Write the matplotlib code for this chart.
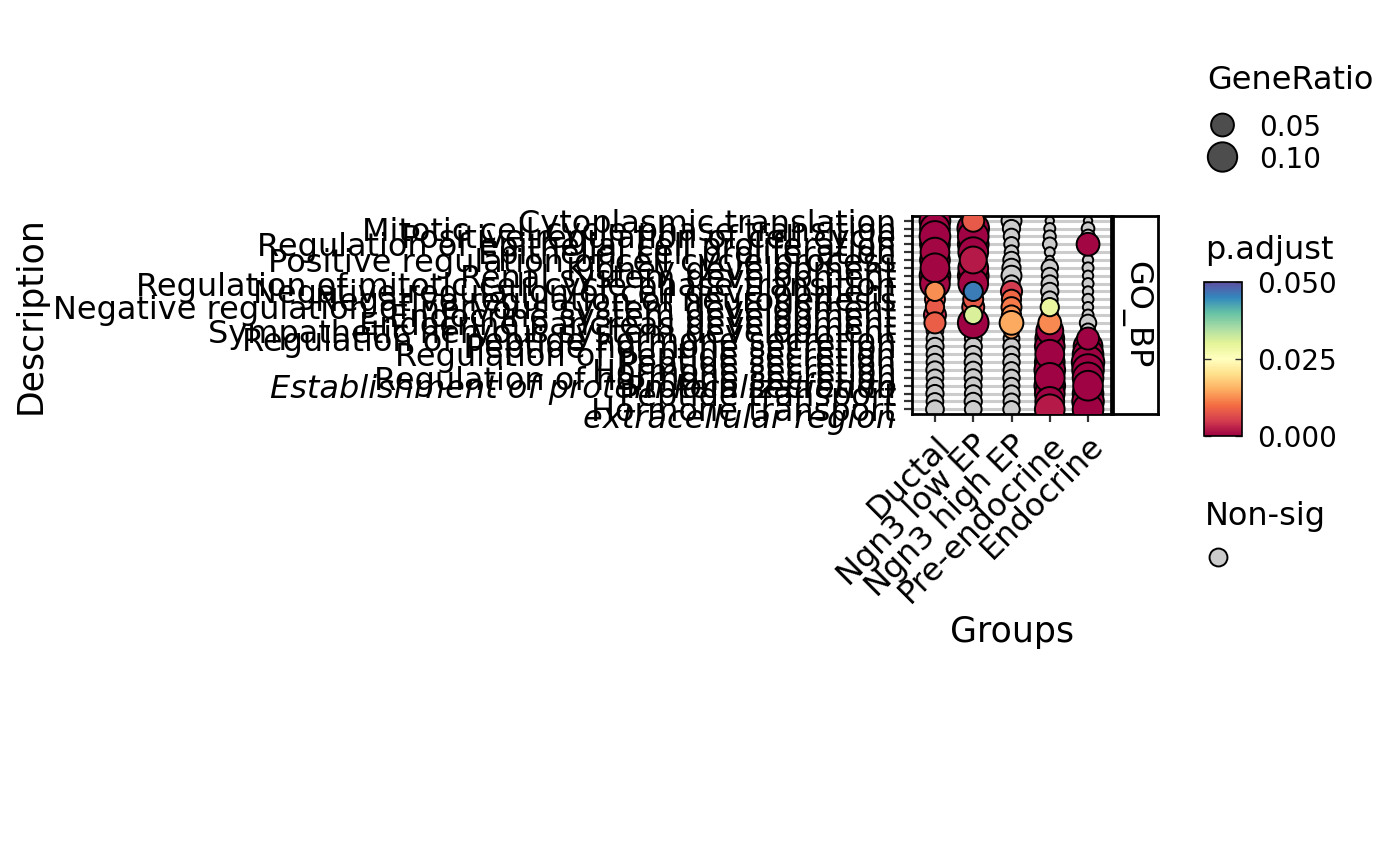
import numpy as np
import matplotlib.pyplot as plt
from matplotlib import cm, colors

groups = ["Ductal", "Ngn3 low EP", "Ngn3 high EP", "Pre-endocrine", "Endocrine"]

descriptions = [
    "Cytoplasmic translation",
    "Mitotic cell cycle phase transition",
    "Positive regulation of cell cycle",
    "Regulation of epithelial cell proliferation",
    "Epithelial cell proliferation",
    "Positive regulation of cell cycle process",
    "Kidney development",
    "Renal system development",
    "Regulation of mitotic cell cycle phase transition",
    "Negative regulation of cell development",
    "Negative regulation of neurogenesis",
    "Negative regulation of nervous system development",
    "Endocrine system development",
    "Endocrine pancreas development",
    "Sympathetic nervous system development",
    "Regulation of peptide hormone secretion",
    "Peptide hormone secretion",
    "Regulation of peptide secretion",
    "Peptide secretion",
    "Hormone secretion",
    "Regulation of hormone secretion",
    "Protein secretion",
    "Peptide transport",
    "Establishment of protein localization to\nextracellular region",
    "Hormone transport",
]
italic_terms = ["Establishment of protein localization to\nextracellular region"]

# GeneRatio / p.adjust per group, same row order as descriptions
ratio_ductal = [0.112, 0.103, 0.112, 0.103, 0.095, 0.103, 0.095, 0.112, 0.103, 0.030,
                0.034, 0.026, 0.045, 0.040, 0.020, 0.020, 0.022, 0.020, 0.020, 0.022,
                0.020, 0.020, 0.022, 0.020, 0.024]
padj_ductal = [0.0002, 0.0002, 0.0003, 0.0002, 0.0004, 0.0003, 0.0005, 0.0002, 0.0004, 0.0125,
               0.0075, 0.008, 0.004, 0.0085, 0.32, 0.41, 0.27, 0.55, 0.38, 0.62,
               0.47, 0.29, 0.51, 0.44, 0.36]

ratio_low = [0.045, 0.121, 0.112, 0.112, 0.103, 0.079, 0.103, 0.112, 0.103, 0.030,
             0.034, 0.045, 0.026, 0.112, 0.022, 0.020, 0.022, 0.020, 0.022, 0.020,
             0.022, 0.020, 0.020, 0.022, 0.020]
padj_low = [0.008, 0.0001, 0.0002, 0.0001, 0.0003, 0.002, 0.0004, 0.0003, 0.0005, 0.046,
            0.008, 0.0065, 0.031, 0.0002, 0.23, 0.48, 0.35, 0.61, 0.29, 0.44,
            0.52, 0.37, 0.58, 0.31, 0.46]

ratio_high = [0.034, 0.022, 0.016, 0.013, 0.011, 0.019, 0.026, 0.034, 0.019, 0.040,
              0.030, 0.034, 0.030, 0.056, 0.016, 0.017, 0.019, 0.017, 0.019, 0.017,
              0.019, 0.017, 0.019, 0.017, 0.019]
padj_high = [0.12, 0.18, 0.26, 0.33, 0.41, 0.22, 0.15, 0.09, 0.19, 0.005,
             0.0095, 0.011, 0.0125, 0.0148, 0.014, 0.38, 0.45, 0.52, 0.29, 0.61,
             0.36, 0.48, 0.55, 0.42, 0.33]

ratio_pre = [0.005, 0.0065, 0.008, 0.0110, 0.0055, 0.005, 0.019, 0.017, 0.019, 0.022,
             0.017, 0.026, 0.019, 0.050, 0.079, 0.095, 0.103, 0.095, 0.103, 0.112,
             0.103, 0.112, 0.103, 0.095, 0.103]
padj_pre = [0.64, 0.52, 0.47, 0.38, 0.71, 0.75, 0.21, 0.27, 0.18, 0.14,
            0.24, 0.029, 0.16, 0.0123, 0.0002, 0.0001, 0.0001, 0.0002, 0.0001, 0.0001,
            0.0002, 0.0001, 0.0001, 0.0003, 0.002]

ratio_endo = [0.005, 0.0090, 0.0110, 0.050, 0.005, 0.0058, 0.0065, 0.0058, 0.0065, 0.0058,
              0.0065, 0.0058, 0.0065, 0.019, 0.013, 0.045, 0.095, 0.112, 0.130, 0.121,
              0.112, 0.103, 0.112, 0.121, 0.112]
padj_endo = [0.71, 0.45, 0.39, 0.0004, 0.77, 0.58, 0.52, 0.61, 0.49, 0.57,
             0.53, 0.60, 0.50, 0.22, 0.30, 0.0003, 0.0001, 0.0001, 0.0001, 0.0001,
             0.0001, 0.0002, 0.0001, 0.0001, 0.0001]

ratios = [ratio_ductal, ratio_low, ratio_high, ratio_pre, ratio_endo]
padjs = [padj_ductal, padj_low, padj_high, padj_pre, padj_endo]


def ratio_to_s(r):
    # area-style size scale -> diameter in px -> marker area in pt^2
    r = np.asarray(r, dtype=float)
    d = 9 + 25 * np.sqrt(np.clip((r - 0.005) / 0.135, 0, None))
    return ((d - 0.6) * 0.72) ** 2


W, H = 1400, 866
fig = plt.figure(figsize=(W / 100, H / 100), dpi=100)
plt.rcParams['font.family'] = 'DejaVu Sans'
FS = 23
EDGE = 1.4

def px_rect(x0, y0, x1, y1):
    return [x0 / W, 1 - y1 / H, (x1 - x0) / W, (y1 - y0) / H]

ax = fig.add_axes(px_rect(912, 216, 1111, 414))

n = len(descriptions)
rows = np.arange(1, n + 1)
xs, ys, rs, ps = [], [], [], []
for gi, g in enumerate(groups):
    xs += [gi + 1] * n
    ys += list(rows)
    rs += ratios[gi]
    ps += padjs[gi]
xs, ys, rs, ps = map(np.array, (xs, ys, rs, ps))
sig = ps <= 0.05

cmap = plt.get_cmap('Spectral')
norm = colors.Normalize(vmin=0, vmax=0.05)

ax.hlines(rows, 0.4, 5.6, color='#cccccc', lw=2.2, zorder=1)
ax.scatter(xs[~sig], ys[~sig], s=ratio_to_s(rs[~sig]), c='#cccccc',
           edgecolors='black', linewidths=EDGE, zorder=2)
order = np.argsort(ps[sig], kind='stable')
ax.scatter(xs[sig][order], ys[sig][order], s=ratio_to_s(rs[sig][order]),
           c=ps[sig][order], cmap=cmap, norm=norm,
           edgecolors='black', linewidths=EDGE, zorder=3)

ax.set_xlim(0.4, 5.6)
ax.set_ylim(n + 0.6, 0.4)
ax.set_xticks(range(1, 6))
ax.set_xticklabels(groups, rotation=45, ha='right', va='top',
                   rotation_mode='anchor', fontsize=FS)
ax.set_yticks(rows)
ax.set_yticklabels(descriptions, fontsize=FS)
for lab in ax.get_yticklabels():
    if lab.get_text() in italic_terms:
        lab.set_fontstyle('italic')
        lab.set_linespacing(0.95)
ax.tick_params(axis='both', length=5.8, width=1.6, color='#333333', pad=5.5)
for sp in ax.spines.values():
    sp.set_linewidth(2)

fig.text(31 / W, 1 - 315 / H, 'Description', rotation=90, ha='center',
         va='center', fontsize=25)
fig.text(1012 / W, 1 - 632 / H, 'Groups', ha='center', va='center', fontsize=25)

# facet strip
sax = fig.add_axes(px_rect(1113, 216, 1158, 414))
sax.set_xticks([])
sax.set_yticks([])
for sp in sax.spines.values():
    sp.set_linewidth(2)
sax.text(0.5, 0.5, 'GO_BP', rotation=-90, ha='center', va='center',
         fontsize=FS, transform=sax.transAxes)

# legends
lax = fig.add_axes([0, 0, 1, 1])
lax.set_xlim(0, W)
lax.set_ylim(H, 0)
lax.axis('off')
lax.text(1207, 89, 'GeneRatio', fontsize=FS, va='baseline')
leg_vals = [0.05, 0.10]
leg_y = [125, 157]
lax.scatter([1222.5] * 2, leg_y, s=ratio_to_s(leg_vals), c='#4d4d4d',
            edgecolors='black', linewidths=EDGE)
for v, y in zip(leg_vals, leg_y):
    lax.text(1259, y, f'{v:.2f}', fontsize=20, va='center_baseline')

lax.text(1205, 259, 'p.adjust', fontsize=FS, va='baseline')
cax = fig.add_axes(px_rect(1204, 282, 1242, 436))
cb = fig.colorbar(cm.ScalarMappable(norm=norm, cmap=cmap), cax=cax)
cb.set_ticks([0, 0.025, 0.05])
cb.set_ticklabels(['0.000', '0.025', '0.050'])
cax.tick_params(direction='in', length=5, width=1, color='#333333',
                labelsize=20, pad=11, left=True, right=True)
cb.outline.set_linewidth(1.2)

lax.text(1205, 525, 'Non-sig', fontsize=FS, va='baseline')
lax.scatter([1217.5], [556.5], s=((18.5 - 0.6) * 0.72) ** 2, c='#cccccc',
            edgecolors='black', linewidths=EDGE)

fig.savefig('out.png', dpi=100)
